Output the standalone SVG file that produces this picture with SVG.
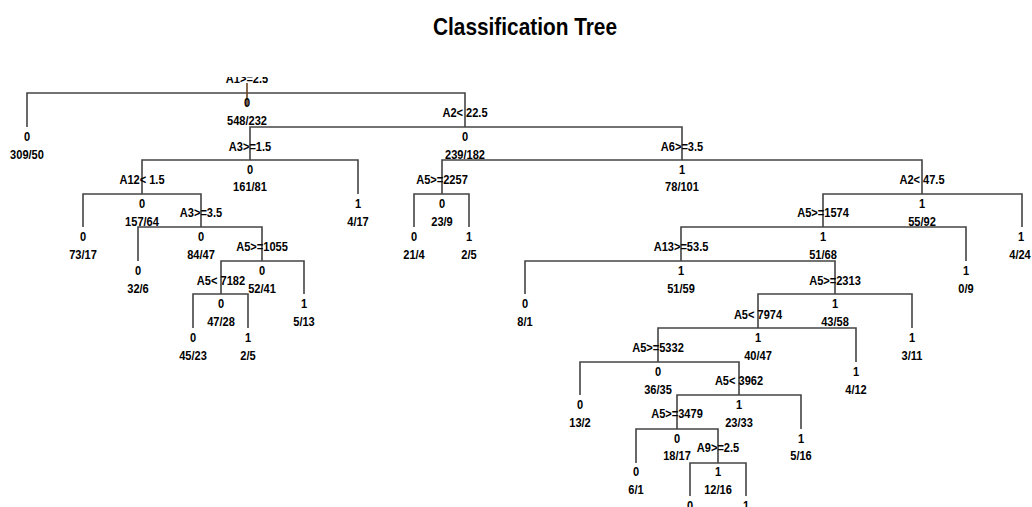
<svg xmlns="http://www.w3.org/2000/svg" width="1032" height="507" viewBox="0 0 1032 507">
<style>
.t{font-family:"Liberation Sans",Arial,sans-serif;font-weight:bold;font-size:13.5px;fill:#000;text-anchor:middle;transform-box:fill-box;transform-origin:center;transform:scaleX(0.82)}
.title{font-family:"Liberation Sans",Arial,sans-serif;font-weight:bold;font-size:23.6px;fill:#000;text-anchor:middle}
.e{stroke:#444;stroke-width:1.6;fill:none}
</style>
<defs>
<clipPath id="topclip"><rect x="-2000" y="77" width="5000" height="432"/></clipPath>
</defs>
<rect width="1032" height="507" fill="#fff"/>
<text class="title" x="525" y="35" textLength="184" lengthAdjust="spacingAndGlyphs">Classification Tree</text>
<g id="connectors">
<path class="e" d="M27,127V93H465V127"/>
<path class="e" d="M250,160V127H682V160"/>
<path class="e" d="M142,194V160H358V194"/>
<path class="e" d="M83,227V194H201V227"/>
<path class="e" d="M138,261V227H262V261"/>
<path class="e" d="M221,294V261H304V294"/>
<path class="e" d="M193,328V294H248V328"/>
<path class="e" d="M442,194V160H922V194"/>
<path class="e" d="M414,227V194H469V227"/>
<path class="e" d="M823,227V194H1022V227"/>
<path class="e" d="M681,261V227H966V261"/>
<path class="e" d="M525,294V261H835V294"/>
<path class="e" d="M758,328V294H912V328"/>
<path class="e" d="M658,362V328H856V362"/>
<path class="e" d="M580,395V362H739V395"/>
<path class="e" d="M677,429V395H801V429"/>
<path class="e" d="M636,463V429H718V463"/>
<path class="e" d="M690,496V463H746V496"/>
<path d="M247,83V106" stroke="#6b4420" stroke-width="1.6"/>
</g>
<g id="n1"><g clip-path="url(#topclip)"><text class="t" x="247" y="83">A1&gt;=2.5</text></g><text class="t" x="247" y="107">0</text><text class="t" x="247" y="125">548/232</text></g>
<g id="n2"><text class="t" x="27" y="141">0</text><text class="t" x="27" y="159">309/50</text></g>
<g id="n3"><text class="t" x="465" y="117">A2&lt; 22.5</text><text class="t" x="465" y="141">0</text><text class="t" x="465" y="159">239/182</text></g>
<g id="n6"><text class="t" x="250" y="151">A3&gt;=1.5</text><text class="t" x="250" y="174">0</text><text class="t" x="250" y="191">161/81</text></g>
<g id="n12"><text class="t" x="142" y="184">A12&lt; 1.5</text><text class="t" x="142" y="208">0</text><text class="t" x="142" y="226">157/64</text></g>
<g id="n24"><text class="t" x="83" y="241">0</text><text class="t" x="83" y="259">73/17</text></g>
<g id="n25"><text class="t" x="201" y="217">A3&gt;=3.5</text><text class="t" x="201" y="241">0</text><text class="t" x="201" y="259">84/47</text></g>
<g id="n50"><text class="t" x="138" y="275">0</text><text class="t" x="138" y="293">32/6</text></g>
<g id="n51"><text class="t" x="262" y="251">A5&gt;=1055</text><text class="t" x="262" y="275">0</text><text class="t" x="262" y="293">52/41</text></g>
<g id="n102"><text class="t" x="221" y="285">A5&lt; 7182</text><text class="t" x="221" y="308">0</text><text class="t" x="221" y="326">47/28</text></g>
<g id="n204"><text class="t" x="193" y="342">0</text><text class="t" x="193" y="360">45/23</text></g>
<g id="n205"><text class="t" x="248" y="342">1</text><text class="t" x="248" y="360">2/5</text></g>
<g id="n103"><text class="t" x="304" y="308">1</text><text class="t" x="304" y="326">5/13</text></g>
<g id="n13"><text class="t" x="358" y="208">1</text><text class="t" x="358" y="226">4/17</text></g>
<g id="n7"><text class="t" x="682" y="151">A6&gt;=3.5</text><text class="t" x="682" y="174">1</text><text class="t" x="682" y="191">78/101</text></g>
<g id="n14"><text class="t" x="442" y="184">A5&gt;=2257</text><text class="t" x="442" y="208">0</text><text class="t" x="442" y="226">23/9</text></g>
<g id="n28"><text class="t" x="414" y="241">0</text><text class="t" x="414" y="259">21/4</text></g>
<g id="n29"><text class="t" x="469" y="241">1</text><text class="t" x="469" y="259">2/5</text></g>
<g id="n15"><text class="t" x="922" y="184">A2&lt; 47.5</text><text class="t" x="922" y="208">1</text><text class="t" x="922" y="226">55/92</text></g>
<g id="n30"><text class="t" x="823" y="217">A5&gt;=1574</text><text class="t" x="823" y="241">1</text><text class="t" x="823" y="259">51/68</text></g>
<g id="n31"><text class="t" x="1021" y="241">1</text><text class="t" x="1020" y="259">4/24</text></g>
<g id="n60"><text class="t" x="681" y="251">A13&gt;=53.5</text><text class="t" x="681" y="275">1</text><text class="t" x="681" y="293">51/59</text></g>
<g id="n61"><text class="t" x="966" y="275">1</text><text class="t" x="966" y="293">0/9</text></g>
<g id="n120"><text class="t" x="525" y="308">0</text><text class="t" x="525" y="326">8/1</text></g>
<g id="n121"><text class="t" x="835" y="285">A5&gt;=2313</text><text class="t" x="835" y="308">1</text><text class="t" x="835" y="326">43/58</text></g>
<g id="n242"><text class="t" x="758" y="319">A5&lt; 7974</text><text class="t" x="758" y="342">1</text><text class="t" x="758" y="360">40/47</text></g>
<g id="n243"><text class="t" x="912" y="342">1</text><text class="t" x="912" y="360">3/11</text></g>
<g id="n484"><text class="t" x="658" y="352">A5&gt;=5332</text><text class="t" x="658" y="376">0</text><text class="t" x="658" y="394">36/35</text></g>
<g id="n485"><text class="t" x="856" y="376">1</text><text class="t" x="856" y="394">4/12</text></g>
<g id="n968"><text class="t" x="580" y="409">0</text><text class="t" x="580" y="427">13/2</text></g>
<g id="n969"><text class="t" x="739" y="385">A5&lt; 3962</text><text class="t" x="739" y="409">1</text><text class="t" x="739" y="427">23/33</text></g>
<g id="n1938"><text class="t" x="677" y="418">A5&gt;=3479</text><text class="t" x="677" y="443">0</text><text class="t" x="677" y="460">18/17</text></g>
<g id="n1939"><text class="t" x="801" y="443">1</text><text class="t" x="801" y="460">5/16</text></g>
<g id="n3876"><text class="t" x="636" y="476">0</text><text class="t" x="636" y="494">6/1</text></g>
<g id="n3877"><text class="t" x="718" y="452">A9&gt;=2.5</text><text class="t" x="718" y="476">1</text><text class="t" x="718" y="494">12/16</text></g>
<g id="n7754"><text class="t" x="690" y="510">0</text></g>
<g id="n7755"><text class="t" x="746" y="510">1</text></g>
</svg>
